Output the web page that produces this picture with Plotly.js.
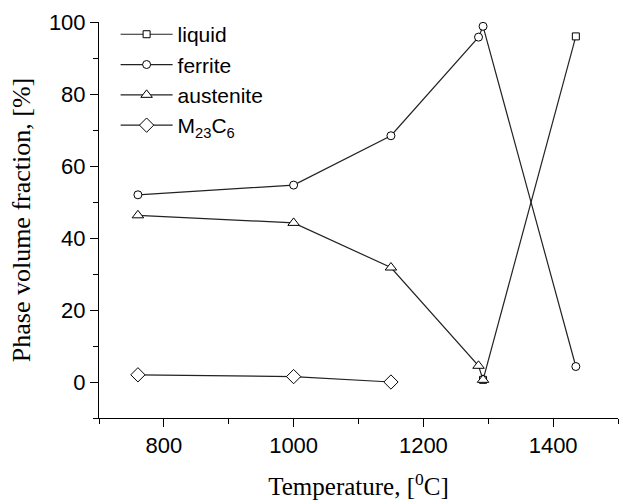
<!DOCTYPE html>
<html>
<head>
<meta charset="utf-8">
<script src="https://cdn.plot.ly/plotly-3.0.1.min.js"></script>
<style>html,body{margin:0;padding:0;background:#fff;}#chart{width:627px;height:504px;}</style>
</head>
<body>
<div id="chart"></div>
<script>
// Data
var liquidT = [1292, 1435];
var liquidV = [0.6, 96];
var ferriteT = [760, 1000, 1150, 1285, 1292, 1435];
var ferriteV = [52, 54.7, 68.4, 95.8, 98.8, 4.3];
var austeniteT = [760, 1000, 1150, 1285, 1292];
var austeniteV = [46.3, 44.2, 31.8, 4.5, 0.6];
var carbideT = [760, 1000, 1150];
var carbideV = [2.0, 1.5, 0];
var seriesNames = ['liquid', 'ferrite', 'austenite', 'M<sub>23</sub>C<sub>6</sub>'];
var xTickVals = [800, 1000, 1200, 1400];
var yTickVals = [0, 20, 40, 60, 80, 100];

function mk(x, y, name, symbol, size) {
  return {
    x: x, y: y, name: name, type: 'scatter', mode: 'lines+markers',
    line: {color: '#222', width: 1.2},
    marker: {symbol: symbol, size: size, color: '#ffffff', line: {color: '#000', width: 1}},
    hoverinfo: 'skip'
  };
}

var data = [
  mk(liquidT, liquidV, seriesNames[0], 'square', 7),
  mk(ferriteT, ferriteV, seriesNames[1], 'circle', 8),
  mk(austeniteT, austeniteV, seriesNames[2], 'triangle-up', 10),
  mk(carbideT, carbideV, seriesNames[3], 'diamond', 11)
];

var layout = {
  width: 627, height: 504,
  margin: {l: 99, r: 9, t: 22, b: 86},
  paper_bgcolor: '#fff', plot_bgcolor: '#fff',
  showlegend: true,
  legend: {x: 0.032, y: 1.02, xanchor: 'left', yanchor: 'top', bgcolor: 'rgba(0,0,0,0)',
           itemwidth: 52,
           font: {family: 'Liberation Sans, Arial, sans-serif', size: 21, color: '#000'},
           tracegroupgap: 0},
  xaxis: {
    range: [700, 1500], tickvals: xTickVals, ticktext: xTickVals.map(String),
    showgrid: false, zeroline: false, showline: true, linecolor: '#000', linewidth: 1,
    ticks: 'outside', ticklen: 8, tickcolor: '#000', tickwidth: 1,
    minor: {dtick: 100, tick0: 700, ticks: 'outside', ticklen: 5, tickcolor: '#000', showgrid: false},
    tickfont: {family: 'Liberation Sans, Arial, sans-serif', size: 22, color: '#000'},
    title: {text: 'Temperature, [<sup>0</sup>C]', standoff: 20,
            font: {family: 'Liberation Serif, Times New Roman, serif', size: 25, color: '#000'}}
  },
  yaxis: {
    range: [-10, 100], tickvals: yTickVals, ticktext: yTickVals.map(String),
    showgrid: false, zeroline: false, showline: true, linecolor: '#000', linewidth: 1,
    ticks: 'outside', ticklen: 8, tickcolor: '#000', tickwidth: 1,
    minor: {dtick: 10, tick0: 0, ticks: 'outside', ticklen: 5, tickcolor: '#000', showgrid: false},
    tickfont: {family: 'Liberation Sans, Arial, sans-serif', size: 22, color: '#000'},
    title: {text: 'Phase volume fraction, [%]', standoff: 10,
            font: {family: 'Liberation Serif, Times New Roman, serif', size: 26, color: '#000'}}
  }
};

Plotly.newPlot('chart', data, layout, {displayModeBar: false, staticPlot: true});
</script>
</body>
</html>
